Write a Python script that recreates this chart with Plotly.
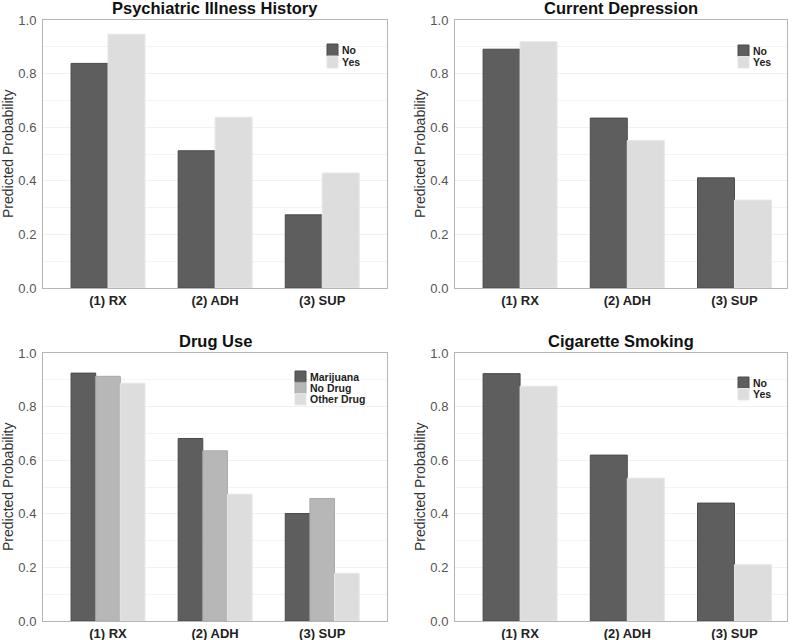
import plotly.graph_objects as go

# categorias del eje x
categorias = ['(1) RX', '(2) ADH', '(3) SUP']

# Psychiatric Illness History
psiq_no = [0.838, 0.512, 0.273]
psiq_yes = [0.947, 0.637, 0.429]

# Current Depression
dep_no = [0.891, 0.634, 0.411]
dep_yes = [0.919, 0.550, 0.328]

# Drug Use
droga_marihuana = [0.925, 0.681, 0.401]
droga_ninguna = [0.913, 0.635, 0.457]
droga_otra = [0.887, 0.473, 0.178]

# Cigarette Smoking
cig_no = [0.923, 0.619, 0.440]
cig_yes = [0.876, 0.533, 0.210]

titulos = ['Psychiatric Illness History', 'Current Depression', 'Drug Use', 'Cigarette Smoking']

OSCURO = '#5e5e5e'
MEDIO = '#b7b7b7'
CLARO = '#dddddd'
BORDE = {OSCURO: '#4a4a4a', MEDIO: '#a9a9a9', CLARO: '#e6e6e6'}
FUENTE = 'Arial, Liberation Sans, sans-serif'

paneles = [
    [('No', psiq_no, OSCURO), ('Yes', psiq_yes, CLARO)],
    [('No', dep_no, OSCURO), ('Yes', dep_yes, CLARO)],
    [('Marijuana', droga_marihuana, OSCURO), ('No Drug', droga_ninguna, MEDIO), ('Other Drug', droga_otra, CLARO)],
    [('No', cig_no, OSCURO), ('Yes', cig_yes, CLARO)],
]

W, H = 800, 640
def px(v):
    return v / W
def py_(v):
    return 1 - v / H

# dominios en pixeles (izq, der) y (arriba, abajo)
dom_x = [(43, 387), (455, 787), (43, 387), (455, 787)]
dom_y = [(20, 288), (20, 288), (353, 621), (353, 621)]
rango_x = [[-0.607, 2.605], [-0.607, 2.49], [-0.607, 2.605], [-0.607, 2.49]]
# leyenda: (x izq del cuadro, y arriba, alto de fila)
pos_leyenda = [(327, 44, 12), (738, 45, 11.5), (295, 371, 11.3), (738, 377, 11.5)]

fig = go.Figure()
layout = {}
anotaciones = []
formas = []

for i, series in enumerate(paneles):
    n = '' if i == 0 else str(i + 1)
    lx, ly, fila = pos_leyenda[i]
    for k, (nombre, valores, color) in enumerate(series):
        fig.add_trace(go.Bar(x=categorias, y=valores, name=nombre, showlegend=False,
                             marker=dict(color=color, line=dict(color=BORDE[color], width=1)),
                             xaxis='x' + n, yaxis='y' + n,
                             hovertemplate='%{x}: %{y:.3f}<extra>' + nombre + '</extra>'))
        # leyenda dibujada a mano (cuadros pegados como en el original)
        formas.append(dict(type='rect', xref='paper', yref='paper',
                           x0=px(lx), x1=px(lx + 11),
                           y0=py_(ly + k * fila), y1=py_(ly + (k + 1) * fila),
                           fillcolor=color, line=dict(color=BORDE[color], width=1)))
        anotaciones.append(dict(text='<b>' + nombre + '</b>', x=px(lx + 13),
                                y=py_(ly + (k + 0.5) * fila), xref='paper', yref='paper',
                                xanchor='left', yanchor='middle', showarrow=False,
                                font=dict(family=FUENTE, size=10.5, color='#222222')))

    x0, x1 = dom_x[i]
    y0, y1 = dom_y[i]
    layout['xaxis' + n] = dict(domain=[px(x0), px(x1)], anchor='y' + n,
                               range=rango_x[i], showgrid=False, automargin=False,
                               showline=True, linecolor='#b5b5b5', linewidth=1, mirror=True,
                               ticks='',
                               tickfont=dict(family=FUENTE, size=13, color='#222222', weight='bold'),
                               fixedrange=True)
    layout['yaxis' + n] = dict(domain=[py_(y1), py_(y0)], anchor='x' + n,
                               range=[0, 1], dtick=0.2, tickformat='.1f', automargin=False,
                               showgrid=True, gridcolor='#f1f1f1', gridwidth=1,
                               minor=dict(dtick=0.1, showgrid=True, gridcolor='#f4f4f4'),
                               zeroline=False,
                               showline=True, linecolor='#b5b5b5', linewidth=1, mirror=True,
                               ticks='outside', ticklen=3, tickcolor='rgba(0,0,0,0)',
                               tickfont=dict(family=FUENTE, size=13, color='#555555'),
                               fixedrange=True)

    # titulo del panel
    anotaciones.append(dict(text='<b>' + titulos[i] + '</b>', x=0.5, y=1,
                            xref='x' + n + ' domain', yref='y' + n + ' domain',
                            xanchor='center', yanchor='bottom', yshift=1, showarrow=False,
                            font=dict(family=FUENTE, size=16.5, color='#111111')))
    # titulo eje y
    anotaciones.append(dict(text='Predicted Probability', x=0, y=0.5, textangle=-90,
                            xref='x' + n + ' domain', yref='y' + n + ' domain',
                            xanchor='center', yanchor='middle', xshift=-35, showarrow=False,
                            font=dict(family=FUENTE, size=14, color='#333333')))

fig.update_layout(**layout)
fig.update_layout(width=W, height=H, margin=dict(l=0, r=0, t=0, b=0),
                  paper_bgcolor='white', plot_bgcolor='white',
                  barmode='group', bargap=0.31, bargroupgap=0,
                  annotations=anotaciones, shapes=formas, showlegend=False,
                  font=dict(family=FUENTE))

# quitar el margen del body para que la figura ocupe la ventana completa
fig.write_html('out.html', config={'displayModeBar': False},
               post_script="document.body.style.margin='0';")
